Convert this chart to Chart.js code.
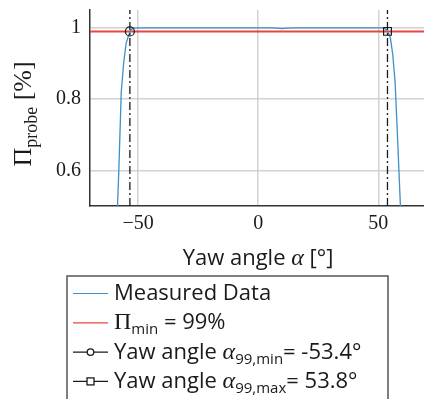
<!DOCTYPE html>
<html>
<head>
<meta charset="utf-8">
<script src="https://cdn.jsdelivr.net/npm/chart.js@4.4.0/dist/chart.umd.min.js"></script>
<style>
  html, body { margin: 0; padding: 0; background: #fff; }
  #wrap { width: 424px; height: 399px; position: relative; }
</style>
</head>
<body>
<div id="wrap"><canvas id="probe_chart"></canvas></div>
<script>
// Measured probe sensitivity over yaw angle
const yawAngle = [-60, -59, -58, -57, -56, -55, -54, -53, -52, -50, -45, -40, -35, -30, -25, -20, -15, -10, -5,
  0, 5, 8, 10, 12, 15, 20, 25, 30, 35, 40, 45, 50, 52, 53, 54, 55, 56, 57, 58, 59, 60];
const probeValue = [0.30, 0.42, 0.60, 0.82, 0.90, 0.955, 0.978, 0.994, 0.999, 1.0, 1.0, 1.0, 1.0, 1.0, 1.0, 1.0, 1.0, 1.0, 1.0,
  1.0, 1.0, 0.999, 0.998, 0.999, 1.0, 1.0, 1.0, 1.0, 1.0, 1.0, 1.0, 1.0, 1.0, 0.997, 0.988, 0.972, 0.925, 0.845, 0.69, 0.53, 0.37];

const piMin = 0.99;
const alphaMin = -53.4;
const alphaMax = 53.8;

const xRange = [-70, 69];
const yRange = [0.5, 1.05];
const xTicks = [-50, 0, 50];
const yTicks = [0.6, 0.8, 1];

const blue = "#3f8fc9";
const red = "#e8453f";
const black = "#1a1a1a";
const sans = '"Open Sans", "Noto Sans", sans-serif';
const serif = '"Liberation Serif", "DejaVu Serif", serif';

Chart.defaults.font.family = serif;

const fmtAngle = v => (v < 0 ? "-" : "") + Math.abs(v).toFixed(1) + "°";

// legend rows: [text, style] parts, style in sans | serif | italic | sub
const legendRows = [
  { color: blue, marker: null, parts: [["Measured Data", "sans"]] },
  { color: red, marker: null, parts: [["Π", "serif"], ["min", "sub"], [" = " + Math.round(piMin * 100) + "%", "sans"]] },
  { color: black, marker: "circle", parts: [["Yaw angle ", "sans"], ["α", "italic"], ["99,min", "sub"], ["= " + fmtAngle(alphaMin), "sans"]] },
  { color: black, marker: "rect", parts: [["Yaw angle ", "sans"], ["α", "italic"], ["99,max", "sub"], ["= " + fmtAngle(alphaMax), "sans"]] }
];

const fonts = {
  sans: "22px " + sans,
  serif: "24px " + serif,
  italic: "italic 24px " + serif,
  sub: "15px " + sans
};

function drawParts(ctx, parts, x, y, fontSet, subShift) {
  parts.forEach(([text, style]) => {
    ctx.font = fontSet[style];
    ctx.fillText(text, x, style === "sub" ? y + subShift : y);
    x += ctx.measureText(text).width;
  });
  return x;
}

function partsWidth(ctx, parts, fontSet) {
  let w = 0;
  parts.forEach(([text, style]) => { ctx.font = fontSet[style]; w += ctx.measureText(text).width; });
  return w;
}

const annotations = {
  id: "annotations",
  afterDraw(chart) {
    const ctx = chart.ctx;
    const area = chart.chartArea;
    ctx.save();
    ctx.fillStyle = "#1a1a1a";
    ctx.textBaseline = "alphabetic";
    ctx.textAlign = "left";

    // x axis title
    const xTitle = [["Yaw angle ", "sans"], ["α", "italic"], [" [°]", "sans"]];
    const xw = partsWidth(ctx, xTitle, fonts);
    drawParts(ctx, xTitle, 258 - xw / 2, 265, fonts, 0);

    // y axis title
    const yFonts = { serif: "26px " + serif, sub: "18px " + serif };
    const yTitle = [["Π", "serif"], ["probe", "sub"], [" [%]", "serif"]];
    const yw = partsWidth(ctx, yTitle, yFonts);
    ctx.save();
    ctx.translate(31, 114);
    ctx.rotate(-Math.PI / 2);
    drawParts(ctx, yTitle, -yw / 2, 0, yFonts, 6);
    ctx.restore();

    // legend box
    ctx.strokeStyle = "#555";
    ctx.lineWidth = 1.5;
    ctx.strokeRect(67, 276, 321, 140);
    legendRows.forEach((row, i) => {
      const base = 300 + i * 29.3;
      const ly = base - 6.5;
      ctx.strokeStyle = row.color;
      ctx.lineWidth = row.marker ? 1.3 : 1.2;
      ctx.beginPath();
      ctx.moveTo(73, ly);
      ctx.lineTo(108, ly);
      ctx.stroke();
      if (row.marker === "circle") {
        ctx.fillStyle = "#fff";
        ctx.beginPath();
        ctx.arc(90.5, ly, 3.3, 0, Math.PI * 2);
        ctx.fill();
        ctx.stroke();
      } else if (row.marker === "rect") {
        ctx.fillStyle = "#fff";
        ctx.fillRect(87, ly - 3.5, 7, 7);
        ctx.strokeRect(87, ly - 3.5, 7, 7);
      }
      ctx.fillStyle = "#1a1a1a";
      drawParts(ctx, row.parts, 114, base, fonts, 5);
    });
    ctx.restore();
  }
};

const verticalLine = (x, style) => ({
  data: [{ x, y: yRange[0] }, { x, y: piMin }, { x, y: yRange[1] }],
  borderColor: black,
  borderWidth: 1.3,
  borderDash: [8, 3, 2, 3],
  pointStyle: style,
  pointRadius: [0, style === "rect" ? 5.5 : 4.5, 0],
  pointBorderWidth: 1.2,
  pointBorderColor: black,
  pointBackgroundColor: "rgba(0,0,0,0)",
  pointHoverRadius: 0,
  order: 0
});

const context = document.getElementById("probe_chart").getContext("2d");

new Chart(context, {
  type: "line",
  data: {
    datasets: [
      verticalLine(alphaMin, "circle"),
      verticalLine(alphaMax, "rect"),
      {
        data: xRange.map(x => ({ x, y: piMin })),
        borderColor: red,
        borderWidth: 2,
        pointRadius: 0,
        order: 2
      },
      {
        data: yawAngle.map((x, i) => ({ x, y: probeValue[i] })),
        borderColor: blue,
        borderWidth: 1.3,
        pointRadius: 0,
        tension: 0,
        order: 1
      }
    ]
  },
  options: {
    responsive: true,
    maintainAspectRatio: false,
    animation: false,
    devicePixelRatio: 1,
    layout: { padding: 0 },
    plugins: { legend: { display: false }, tooltip: { enabled: false } },
    scales: {
      x: {
        type: "linear",
        min: xRange[0],
        max: xRange[1],
        afterBuildTicks: scale => { scale.ticks = xTicks.map(value => ({ value })); },
        afterFit: scale => { scale.height = 193; scale.paddingLeft = 0; scale.paddingRight = 0; },
        grid: { color: "#d2d2d2", lineWidth: 1.5, drawTicks: false },
        border: { color: "#333", width: 1.5 },
        ticks: {
          padding: 6,
          color: "#1a1a1a",
          font: { family: serif, size: 20 },
          callback: v => (v < 0 ? "\u2212" + Math.abs(v) : String(v))
        }
      },
      y: {
        min: yRange[0],
        max: yRange[1],
        afterBuildTicks: scale => { scale.ticks = yTicks.map(value => ({ value })); },
        afterFit: scale => { scale.width = 90; scale.paddingTop = 10; scale.paddingBottom = 0; },
        grid: { color: "#d2d2d2", lineWidth: 1.5, drawTicks: false },
        border: { color: "#333", width: 1.5 },
        ticks: {
          padding: 9,
          color: "#1a1a1a",
          font: { family: serif, size: 20 },
          callback: v => String(v)
        }
      }
    }
  },
  plugins: [annotations]
});
</script>
</body>
</html>
